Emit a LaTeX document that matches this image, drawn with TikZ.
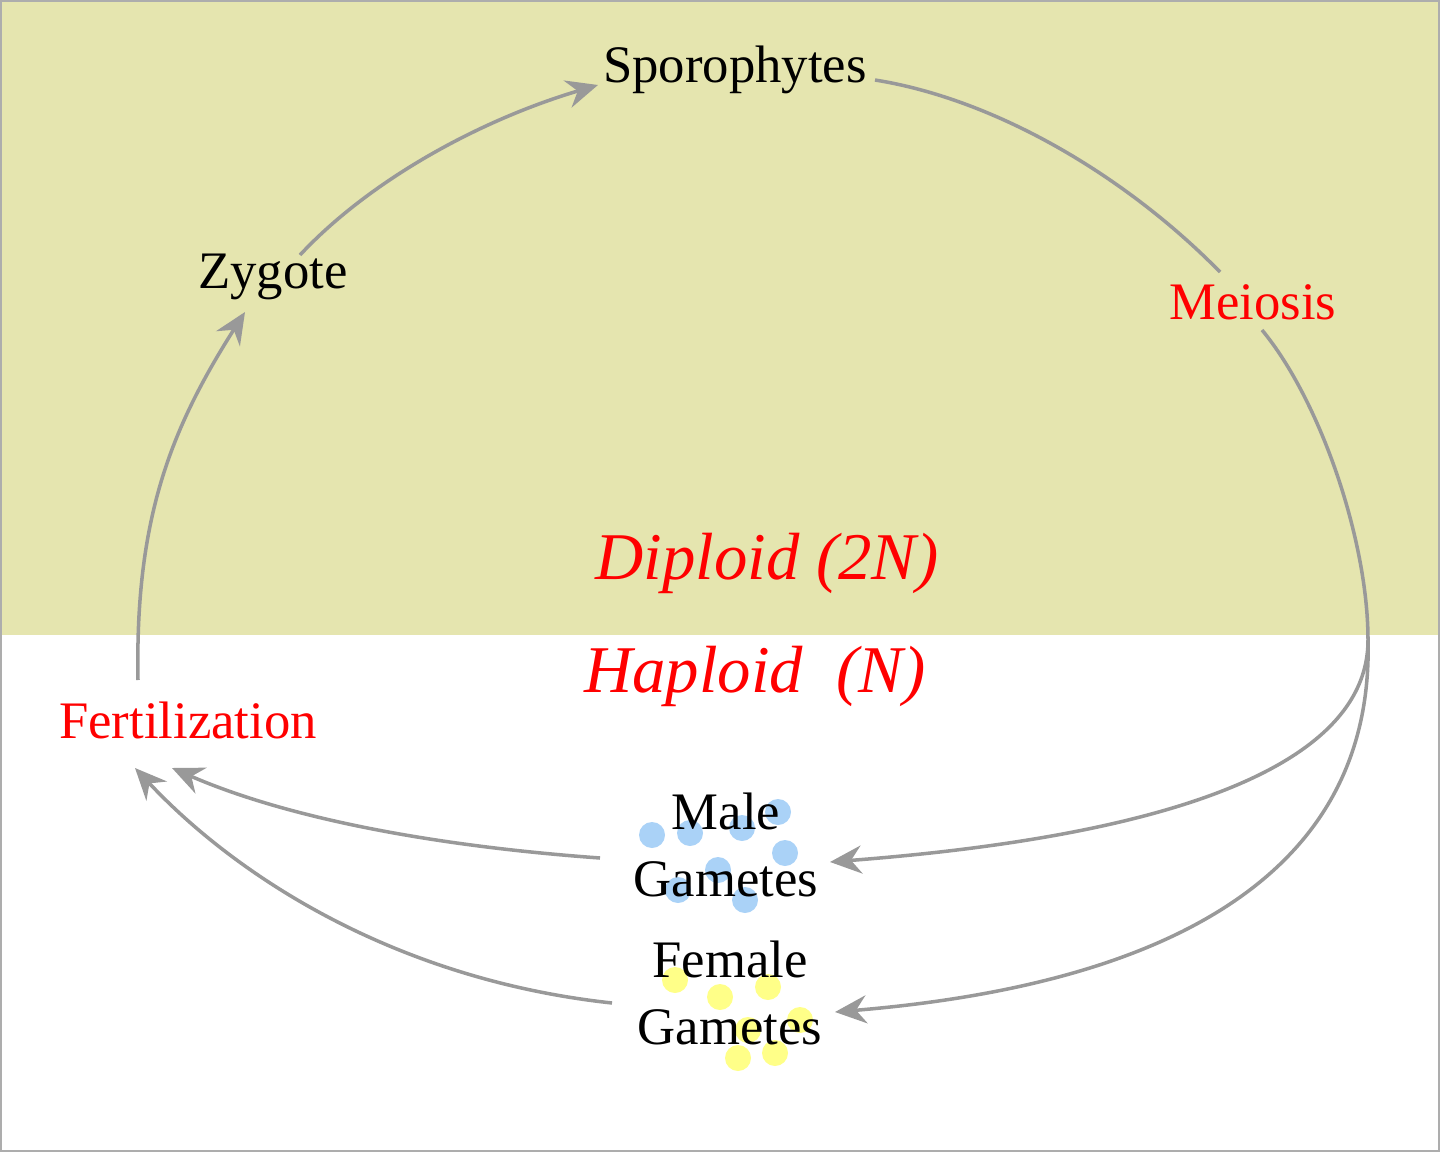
\documentclass[tikz,border=0pt]{standalone}
\usepackage{fontspec}
\setmainfont{Liberation Serif}
\usetikzlibrary{arrows.meta}
\definecolor{olive}{HTML}{E5E5AF}
\definecolor{arr}{HTML}{999999}
\definecolor{dotb}{HTML}{AAD2F7}
\definecolor{doty}{HTML}{FFFF88}
\begin{document}
\begin{tikzpicture}[x=0.02cm,y=-0.02cm,
  lbl/.style={font=\fontsize{30}{34}\selectfont, inner sep=1pt},
  redlbl/.style={lbl, text=red},
  big/.style={font=\fontsize{38}{42}\selectfont\itshape, text=red, inner sep=1pt},
  conn/.style={draw=arr, line width=2pt},
  tip/.style={-{Stealth[inset=6pt,length=18pt,width=16pt]}},
  bdot/.style={fill=dotb, draw=none},
  ydot/.style={fill=doty, draw=none}]
\useasboundingbox (0,0) rectangle (1440,1152);
\fill[olive] (0,0) rectangle (1440,635);
\draw[arr!80, line width=1.5pt] (1,1) rectangle (1439,1151);
\foreach \p in {(652,835),(690,833),(742,828),(778,812),(785,853),(718,870),(678,890),(745,900)}
  \fill[bdot] \p circle (13);
\foreach \p in {(675,980),(720,997),(768,987),(800,1020),(738,1058),(775,1053),(748,1030)}
  \fill[ydot] \p circle (13);
\node[lbl] (spo) at (735,70) {Sporophytes};
\node[lbl] (zyg) at (273,277) {Zygote};
\node[redlbl] (mei) at (1253,302) {Meiosis};
\node[redlbl] (fer) at (188,720) {Fertilization};
\node[big] (dip) at (767,563) {Diploid (2N)};
\node[big] (hap) at (755,676) {Haploid\ \ (N)};
\node[lbl, align=center, font=\fontsize{30}{38}\selectfont] (male) at (726,845) {Male\\Gametes};
\node[lbl, align=center, font=\fontsize{30}{38}\selectfont] (fem) at (730,993) {Female\\Gametes};
\coordinate (split) at (1368,640);
\coordinate (zt) at (300,255);
\coordinate (st) at (598,85);
\coordinate (se) at (875,80);
\coordinate (mt) at (1220,272);
\coordinate (mb) at (1262,330);
\coordinate (me) at (830,862);
\coordinate (fe) at (835,1012);
\coordinate (ms) at (600,858);
\coordinate (fs) at (612,1003);
\coordinate (ft) at (138,680);
\coordinate (zb) at (245,312);
\draw[conn,tip] (zt) .. controls (370,180) and (480,120) .. (st);
\draw[conn] (se) .. controls (1000,100) and (1130,180) .. (mt);
\draw[conn] (mb) .. controls (1320,400) and (1368,540) .. (split);
\draw[conn,tip] (split) .. controls (1368,800) and (1050,845) .. (me);
\draw[conn,tip] (split) .. controls (1375,910) and (1100,990) .. (fe);
\draw[conn,tip] (ft) .. controls (135,520) and (170,430) .. (zb);
\draw[conn,tip] (ms) .. controls (420,845) and (280,815) .. (172,768);
\draw[conn,tip] (fs) .. controls (400,980) and (240,880) .. (135,768);
\end{tikzpicture}
\end{document}
